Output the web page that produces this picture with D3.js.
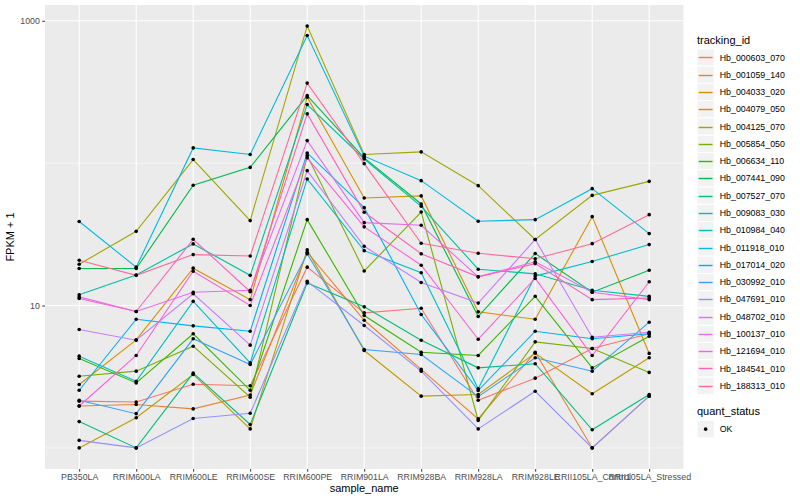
<!DOCTYPE html>
<html>
<head>
<meta charset="utf-8">
<script src="https://cdn.jsdelivr.net/npm/d3@7"></script>
<style>
body { margin: 0; background: #fff; }
text { font-family: "Liberation Sans", Arial, sans-serif; }
</style>
</head>
<body>
<div id="container"></div>
<script>
var samples = ["PB350LA", "RRIM600LA", "RRIM600LE", "RRIM600SE", "RRIM600PE", "RRIM901LA",
	"RRIM928BA", "RRIM928LA", "RRIM928LE", "RRII105LA_Control", "RRII105LA_Stressed"];

var trackingIds = ["Hb_000603_070", "Hb_001059_140", "Hb_004033_020", "Hb_004079_050", "Hb_004125_070",
	"Hb_005854_050", "Hb_006634_110", "Hb_007441_090", "Hb_007527_070", "Hb_009083_030",
	"Hb_010984_040", "Hb_011918_010", "Hb_017014_020", "Hb_030992_010", "Hb_047691_010",
	"Hb_048702_010", "Hb_100137_010", "Hb_121694_010", "Hb_184541_010", "Hb_188313_010"];

// FPKM + 1, one row per tracking_id, one value per sample
var fpkm = [
	[2.13, 2.10, 2.80, 2.73, 18.6, 8.89, 9.57, 2.16, 3.09, 4.99, 6.33],
	[1.97, 2.02, 1.88, 2.35, 23.7, 7.88, 3.56, 1.60, 4.70, 1.00, 2.31],
	[2.79, 5.74, 18.3, 11.0, 291, 57.0, 58.9, 9.03, 8.01, 42.1, 4.61],
	[1.00, 1.63, 3.28, 1.36, 24.6, 4.83, 2.31, 2.37, 4.63, 2.40, 4.30],
	[19.5, 33.2, 106, 39.5, 918, 115, 120, 69.5, 29.1, 59.4, 74.5],
	[3.19, 3.46, 5.18, 2.27, 113, 17.5, 45.4, 1.56, 5.56, 4.99, 3.39],
	[4.25, 2.86, 6.33, 2.54, 40.1, 8.51, 4.70, 4.46, 11.6, 3.65, 6.09],
	[18.2, 18.2, 69.9, 93.4, 298, 109, 51.7, 8.37, 23.2, 12.4, 17.7],
	[1.53, 1.00, 3.35, 1.46, 14.4, 9.79, 5.71, 3.65, 3.90, 1.34, 2.37],
	[11.9, 16.4, 27.1, 16.3, 258, 107, 49.8, 18.0, 16.7, 12.8, 11.6],
	[4.41, 2.94, 10.7, 3.96, 77.5, 24.3, 17.0, 2.60, 16.1, 20.4, 26.8],
	[38.9, 18.6, 128, 115, 788, 112, 75.4, 39.1, 40.1, 66.2, 32.0],
	[2.54, 8.01, 7.20, 6.60, 118, 48.7, 8.65, 2.53, 6.60, 5.84, 6.33],
	[2.16, 1.74, 5.84, 3.85, 23.1, 4.91, 4.53, 2.29, 4.30, 3.46, 7.64],
	[1.13, 1.00, 1.61, 1.75, 14.8, 7.24, 3.46, 1.36, 2.50, 1.00, 2.31],
	[6.79, 5.71, 12.1, 5.27, 88.6, 26.1, 14.5, 10.4, 29.1, 5.99, 6.50],
	[11.5, 9.08, 12.4, 12.8, 144, 38.2, 36.6, 15.9, 20.3, 12.4, 11.0],
	[1.97, 4.46, 17.4, 10.0, 109, 35.7, 19.2, 5.80, 15.5, 4.46, 14.7],
	[11.2, 9.08, 29.2, 12.5, 222, 45.2, 23.1, 15.9, 19.7, 11.0, 11.3],
	[20.8, 16.3, 22.8, 22.3, 365, 99.2, 27.4, 23.3, 21.3, 27.2, 43.5]
];

var yTicks = [10, 1000];
var yMinor = [1, 100];
var quantStatus = ["OK"];

function hueColor(h) { //R's hcl(h, c=100, l=65), polar LUV -> sRGB, like ggplot's hue palette
	var L = 65, C = 100, hr = h * Math.PI / 180;
	var U = C * Math.cos(hr), V = C * Math.sin(hr);
	var Y = 100 * Math.pow((L + 16) / 116, 3);
	var u = U / (13 * L) + 0.1978398, v = V / (13 * L) + 0.4683363;
	var X = 9 * Y * u / (4 * v);
	var Z = -X / 3 - 5 * Y + 3 * Y / v;
	function g(c) {
		c = c > 0.00304 ? 1.055 * Math.pow(c, 1 / 2.4) - 0.055 : 12.92 * c;
		return Math.round(255 * Math.max(0, Math.min(1, c)));
	}
	return d3.rgb(g((3.240479 * X - 1.537150 * Y - 0.498535 * Z) / 100),
		g((-0.969256 * X + 1.875992 * Y + 0.041556 * Z) / 100),
		g((0.055648 * X - 0.204043 * Y + 1.057311 * Z) / 100)).formatHex();
}

var n = trackingIds.length;
var colors = trackingIds.map(function (d, i) { return hueColor(15 + i * 360 / n); });

var w = 800, h = 500,
	pLeft = 45, pRight = 683.4, pTop = 5, pBottom = 469; //panel edges

var vis = d3.select("div#container").append("svg")
	.attr("width", w)
	.attr("height", h);

var x = d3.scalePoint().domain(samples).range([pLeft, pRight]).padding(0.6);

var all = d3.merge(fpkm);
var lo = Math.log10(d3.min(all)), hi = Math.log10(d3.max(all)),
	pad = (hi - lo) * 0.05; //ggplot style expansion
var y = d3.scaleLog().domain([Math.pow(10, lo - pad), Math.pow(10, hi + pad)]).range([pBottom, pTop]);

vis.append("rect") //panel
	.attr("x", pLeft).attr("y", pTop)
	.attr("width", pRight - pLeft).attr("height", pBottom - pTop)
	.attr("fill", "#EBEBEB");

vis.selectAll("line.minor").data(yMinor)
	.enter().append("line")
	.attr("x1", pLeft).attr("x2", pRight)
	.attr("y1", function (d) { return y(d); }).attr("y2", function (d) { return y(d); })
	.attr("stroke", "#fff").attr("stroke-width", 0.55);

vis.selectAll("line.major").data(yTicks)
	.enter().append("line")
	.attr("x1", pLeft).attr("x2", pRight)
	.attr("y1", function (d) { return y(d); }).attr("y2", function (d) { return y(d); })
	.attr("stroke", "#fff").attr("stroke-width", 1.1);

vis.selectAll("line.vgrid").data(samples)
	.enter().append("line")
	.attr("x1", function (d) { return x(d); }).attr("x2", function (d) { return x(d); })
	.attr("y1", pTop).attr("y2", pBottom)
	.attr("stroke", "#fff").attr("stroke-width", 1.1);

// axes
var xAxis = vis.append("g").attr("transform", "translate(0," + pBottom + ")")
	.call(d3.axisBottom(x).tickSize(2.7).tickPadding(2.5));
var yAxis = vis.append("g").attr("transform", "translate(" + pLeft + ",0)")
	.call(d3.axisLeft(y).tickValues(yTicks).tickFormat(d3.format("d")).tickSize(2.7).tickPadding(2.5));
[xAxis, yAxis].forEach(function (a) {
	a.select(".domain").remove();
	a.selectAll(".tick line").attr("stroke", "#333");
	a.selectAll(".tick text").attr("fill", "#4D4D4D").style("font-size", "8.8px")
		.style("font-family", "'Liberation Sans', Arial, sans-serif");
});

var line = d3.line()
	.x(function (d, i) { return x(samples[i]); })
	.y(function (d) { return y(d); });

vis.selectAll("path.series").data(fpkm)
	.enter().append("path")
	.attr("class", "series")
	.attr("d", line)
	.attr("fill", "none")
	.attr("stroke", function (d, i) { return colors[i]; })
	.attr("stroke-width", 1.1);

var pts = [];
fpkm.forEach(function (row) {
	row.forEach(function (v, j) { pts.push({ s: samples[j], v: v }); });
});
vis.selectAll("circle.pt").data(pts)
	.enter().append("circle")
	.attr("cx", function (d) { return x(d.s); })
	.attr("cy", function (d) { return y(d.v); })
	.attr("r", 1.8)
	.attr("fill", "#000");

// axis titles
vis.append("text").attr("x", (pLeft + pRight) / 2).attr("y", 492)
	.attr("text-anchor", "middle").style("font-size", "11px").text("sample_name");
vis.append("text").attr("transform", "translate(14," + (pTop + pBottom) / 2 + ") rotate(-90)")
	.attr("text-anchor", "middle").style("font-size", "11px").text("FPKM + 1");

// legend: tracking_id
var lx = 697, ks = 17.28;
var leg = vis.append("g");
leg.append("text").attr("x", lx).attr("y", 44).style("font-size", "11px").text("tracking_id");
var keys = leg.selectAll("g.key").data(trackingIds)
	.enter().append("g")
	.attr("transform", function (d, i) { return "translate(" + lx + "," + (48.8 + i * ks) + ")"; });
keys.append("rect").attr("width", ks).attr("height", ks)
	.attr("fill", "#F2F2F2").attr("stroke", "#fff").attr("stroke-width", 1);
keys.append("line").attr("x1", 1.7).attr("x2", ks - 1.7)
	.attr("y1", function (d, i) { return Math.round(48.8 + i * ks + ks / 2) + 0.5 - (48.8 + i * ks); })
	.attr("y2", function (d, i) { return Math.round(48.8 + i * ks + ks / 2) + 0.5 - (48.8 + i * ks); })
	.attr("stroke", function (d, i) { return colors[i]; }).attr("stroke-width", 1.4);
keys.append("text").attr("x", ks + 5.5).attr("y", ks / 2 + 3.1)
	.style("font-size", "8.8px").text(function (d) { return d; });

// legend: quant_status
var leg2 = vis.append("g");
leg2.append("text").attr("x", lx).attr("y", 415).style("font-size", "11px").text("quant_status");
var k2 = leg2.selectAll("g.key2").data(quantStatus)
	.enter().append("g")
	.attr("transform", function (d, i) { return "translate(" + lx + "," + (420.5 + i * ks) + ")"; });
k2.append("rect").attr("width", ks).attr("height", ks)
	.attr("fill", "#F2F2F2").attr("stroke", "#fff").attr("stroke-width", 1);
k2.append("circle").attr("cx", ks / 2).attr("cy", ks / 2).attr("r", 1.8).attr("fill", "#000");
k2.append("text").attr("x", ks + 5.5).attr("y", ks / 2 + 3.1)
	.style("font-size", "8.8px").text(function (d) { return d; });
</script>
</body>
</html>
